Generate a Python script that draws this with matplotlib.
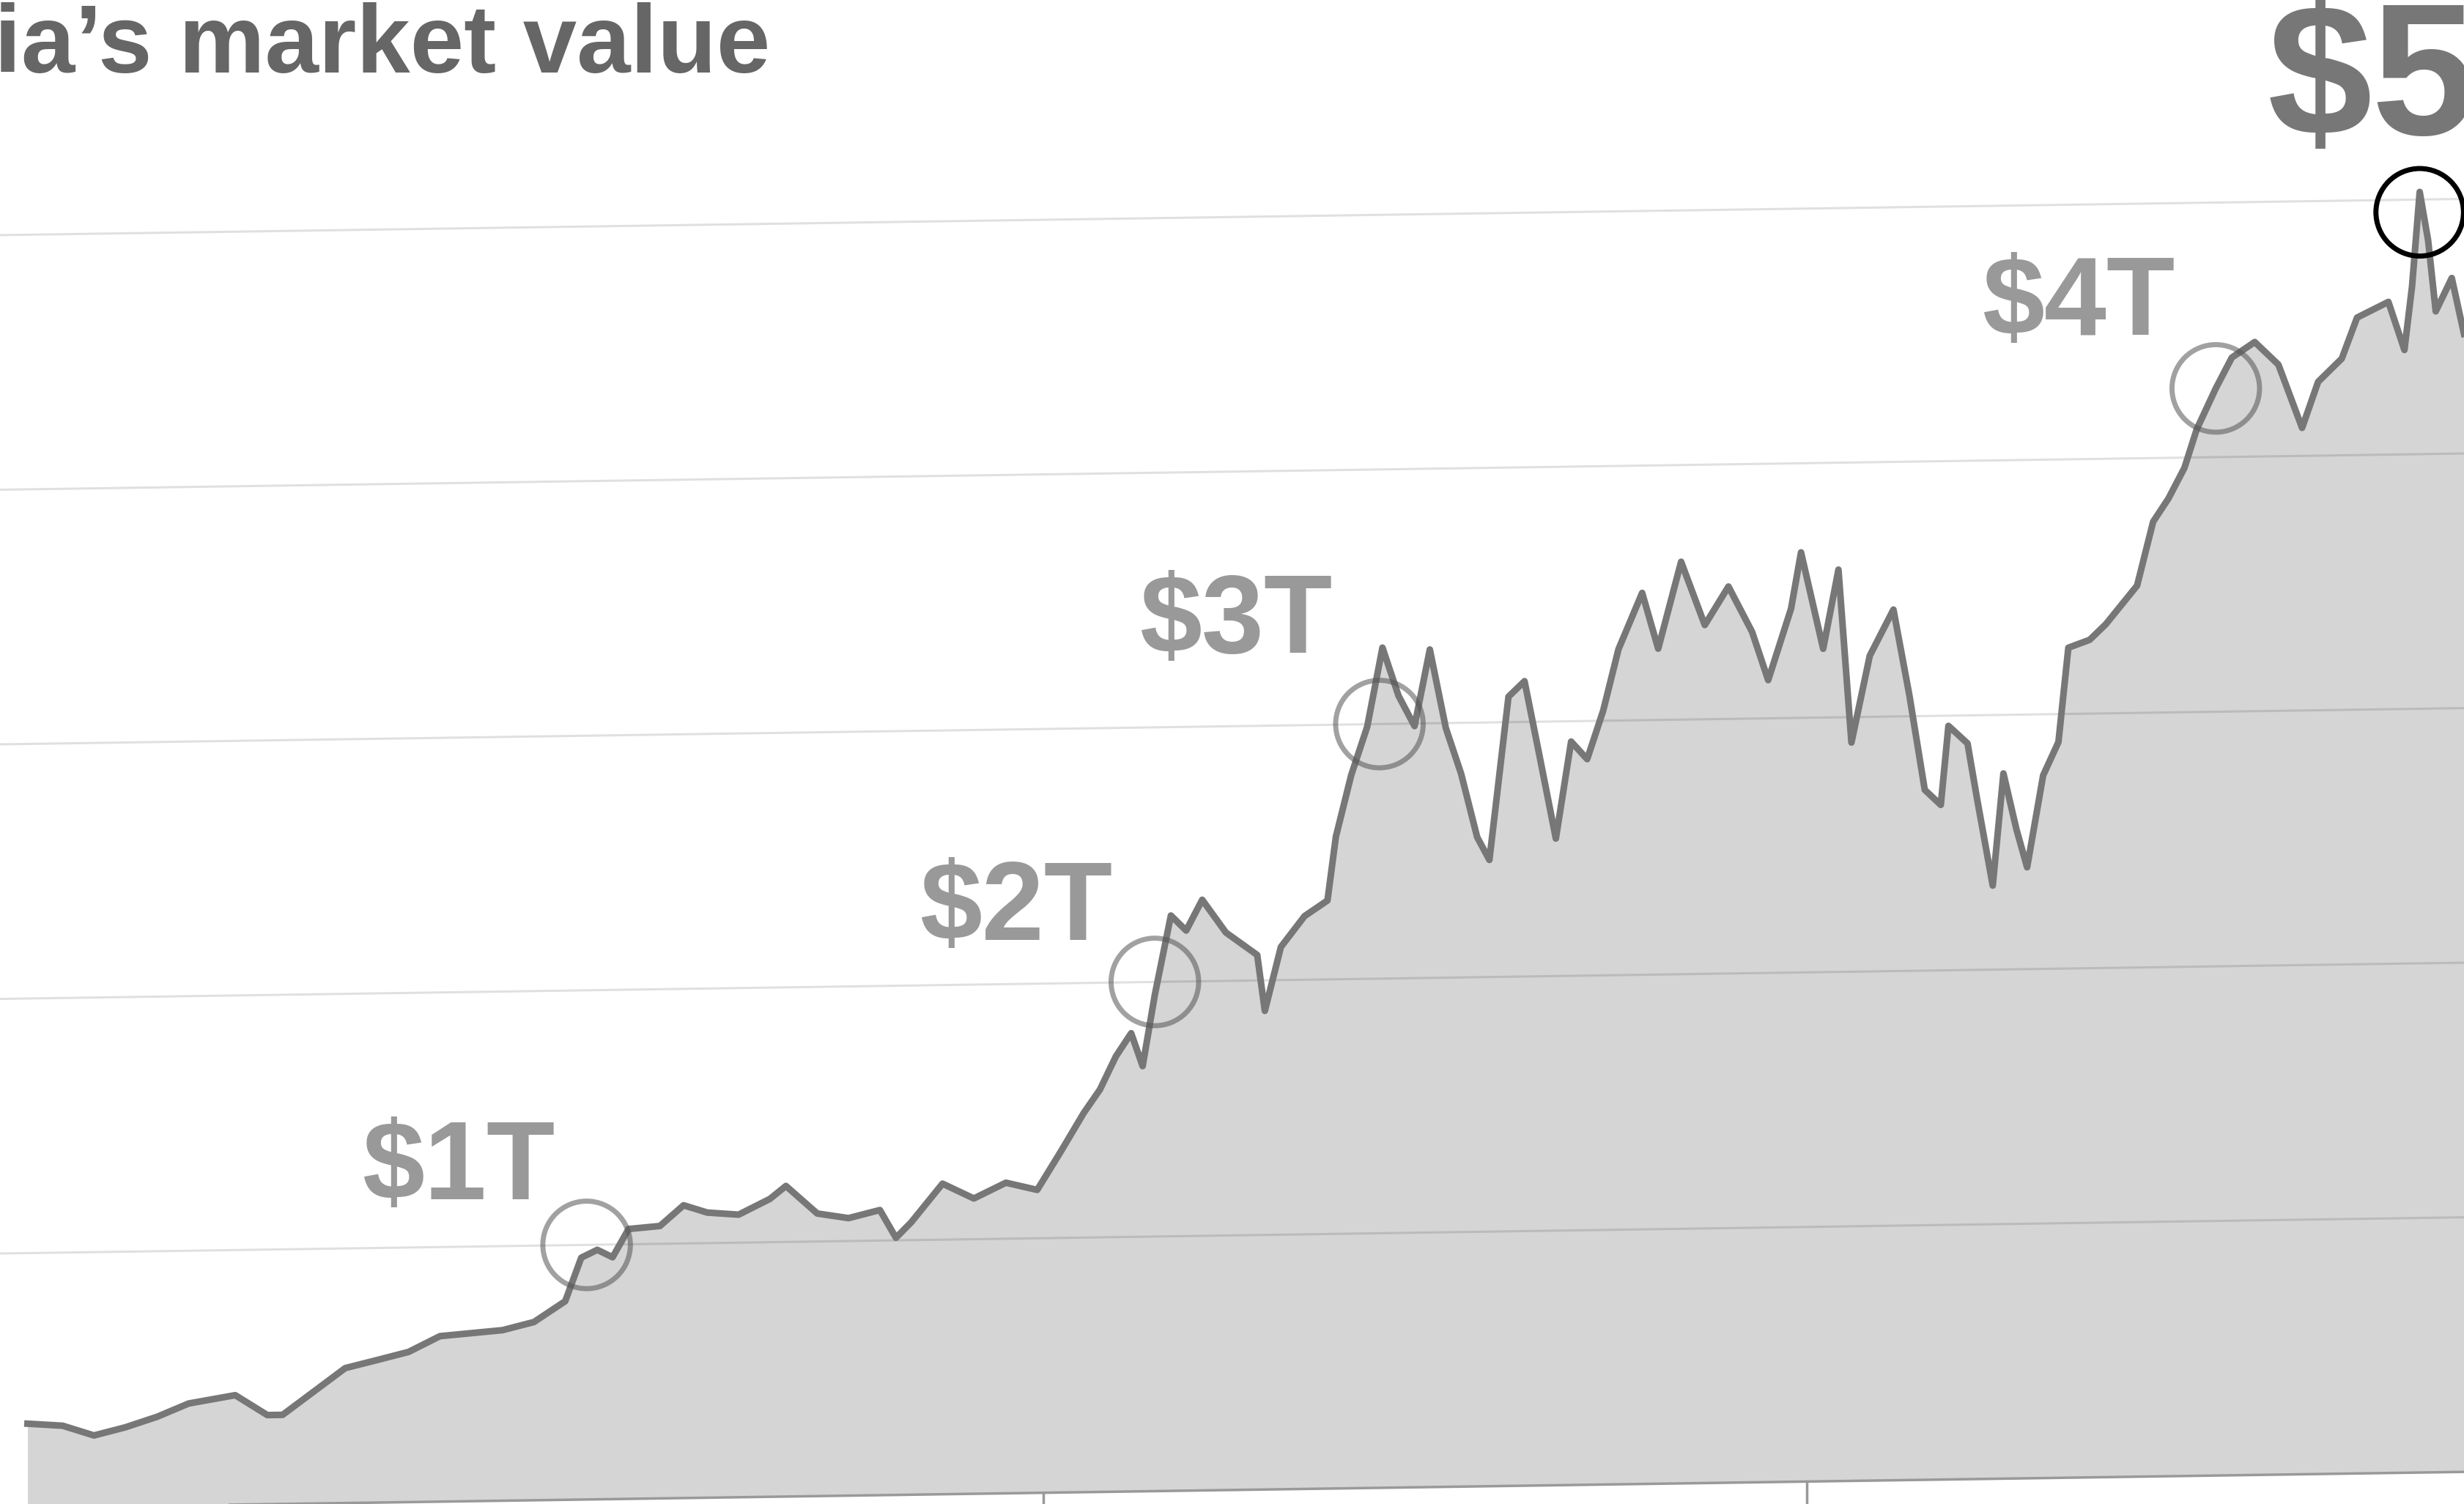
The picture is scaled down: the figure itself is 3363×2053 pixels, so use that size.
import matplotlib.pyplot as plt
import matplotlib.transforms as mtransforms
import numpy as np

# years since Jan 2023, market value in $ trillions
years = [-0.33, -0.284, -0.243, -0.202, -0.160, -0.119, -0.058, -0.016, 0.004, 0.045,
         0.086, 0.128, 0.169, 0.210, 0.251, 0.292, 0.333, 0.374, 0.395, 0.416,
         0.436, 0.457, 0.498, 0.529, 0.560, 0.601, 0.642, 0.663, 0.704, 0.745,
         0.786, 0.807, 0.827, 0.868, 0.909, 0.951, 0.992, 1.023, 1.053, 1.074,
         1.095, 1.115, 1.130, 1.146, 1.167, 1.187, 1.208, 1.239, 1.280, 1.290,
         1.311, 1.342, 1.372, 1.383, 1.403, 1.424, 1.444, 1.465, 1.486, 1.506,
         1.527, 1.547, 1.568, 1.584, 1.609, 1.630, 1.650, 1.671, 1.691, 1.712,
         1.733, 1.753, 1.784, 1.805, 1.835, 1.866, 1.897, 1.928, 1.949, 1.979,
         1.992, 2.021, 2.041, 2.058, 2.082, 2.113, 2.134, 2.154, 2.175, 2.185,
         2.210, 2.222, 2.243, 2.257, 2.274, 2.288, 2.309, 2.329, 2.342, 2.370,
         2.391, 2.432, 2.453, 2.473, 2.494, 2.510, 2.535, 2.556, 2.586, 2.617,
         2.648, 2.669, 2.700, 2.720, 2.761, 2.782, 2.792, 2.802, 2.813, 2.823,
         2.844, 2.860]
value = [0.33, 0.32, 0.28, 0.31, 0.35, 0.40, 0.43, 0.35, 0.35, 0.44,
         0.53, 0.56, 0.59, 0.65, 0.66, 0.67, 0.70, 0.78, 0.95, 0.98,
         0.95, 1.06, 1.07, 1.15, 1.12, 1.11, 1.17, 1.22, 1.11, 1.09,
         1.12, 1.01, 1.07, 1.22, 1.16, 1.22, 1.19, 1.34, 1.49, 1.58,
         1.71, 1.80, 1.67, 1.95, 2.26, 2.20, 2.32, 2.19, 2.10, 1.88,
         2.13, 2.25, 2.31, 2.56, 2.80, 2.99, 3.30, 3.11, 2.99, 3.29,
         2.98, 2.80, 2.55, 2.46, 3.10, 3.16, 2.86, 2.54, 2.92, 2.85,
         3.04, 3.28, 3.50, 3.28, 3.62, 3.37, 3.52, 3.34, 3.15, 3.43,
         3.65, 3.27, 3.58, 2.90, 3.24, 3.42, 3.08, 2.71, 2.65, 2.96,
         2.89, 2.68, 2.33, 2.77, 2.55, 2.40, 2.76, 2.89, 3.26, 3.29,
         3.35, 3.50, 3.75, 3.84, 3.96, 4.11, 4.27, 4.39, 4.45, 4.36,
         4.11, 4.29, 4.38, 4.54, 4.60, 4.41, 4.66, 5.03, 4.84, 4.56,
         4.69, 4.47]

milestone_years = [0.402, 1.146, 1.440, 2.535, 2.802]
milestone_values = [1.0, 2.0, 3.0, 4.27, 4.95]
milestone_labels = ["$1T", "$2T", "$3T", "$4T", "$5T"]
label_pos = [(292, 745), (647, 580), (787, 397), (1323, 195), (1443, 55)]
grid_levels = [1, 2, 3, 4, 5]
tick_years = [0, 1, 2]

W, H = 1568, 957
fig = plt.figure(figsize=(33.63, 20.53), dpi=100)
ax = fig.add_axes([0, 0, 1, 1])
ax.set_xlim(-0.366, 2.860)
ax.set_ylim(0, 957 / 162)
ax.axis("off")

# slight upward tilt of the whole chart plane
skew = mtransforms.Affine2D(np.array([[1, 0, 0], [0.0441, 1, 0], [0, 0, 1]]))
tr = skew + ax.transData

ax.fill_between(years, value, 0, color="#d5d5d5", lw=0, transform=tr, zorder=1)
for g in grid_levels:
    ax.plot([-0.5, 3.0], [g, g], color="black", alpha=0.12, lw=2.2, transform=tr, zorder=2)
ax.plot(years, value, color="#777777", lw=6.5, solid_joinstyle="round", transform=tr, zorder=3)
ax.plot([-0.5, 3.0], [0, 0], color="#999999", lw=2.5, transform=tr, zorder=2)
for t in tick_years:
    ax.plot([t, t], [0, -0.1], color="#999999", lw=2.5, transform=tr, zorder=2, clip_on=False)

for i, (mx, mv) in enumerate(zip(milestone_years, milestone_values)):
    last = i == len(milestone_years) - 1
    ax.scatter([mx], [mv], s=7400, facecolors="none",
               edgecolors="black" if last else "#555555",
               alpha=1 if last else 0.55, linewidths=5, transform=tr, zorder=4)
    px, py = label_pos[i]
    fig.text(px / W, 1 - py / H, milestone_labels[i],
             ha="left" if last else "center", va="center",
             fontsize=185 if last else 110, fontweight="bold",
             family="Liberation Sans", color="#777777" if last else "#999999")

fig.text(490 / W, 1 - 30 / H, "Nvidia\u2019s market value", ha="right", va="center",
         fontsize=95, fontweight="bold", family="Liberation Sans", color="#666666")

fig.savefig("out.png", dpi=100)
